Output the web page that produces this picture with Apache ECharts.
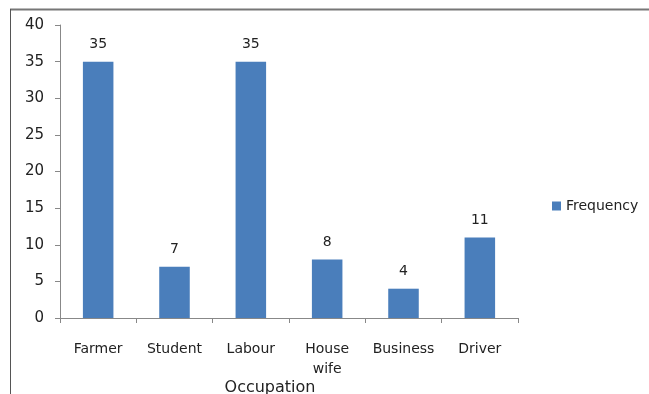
<!DOCTYPE html>
<html><head><meta charset="utf-8">
<script src="https://cdn.jsdelivr.net/npm/echarts@6/dist/echarts.min.js"></script>
<style>html,body{margin:0;padding:0;background:#fff}#c{width:649px;height:394px}</style>
</head><body><div id="c"></div>
<script>
const categories = ['Farmer', 'Student', 'Labour', 'House\nwife', 'Business', 'Driver'];
const frequency = [35, 7, 35, 8, 4, 11];
const yTicks = [0, 5, 10, 15, 20, 25, 30, 35, 40];
const seriesName = 'Frequency';
const xTitle = 'Occupation';

const chart = echarts.init(document.getElementById('c'), null, {renderer: 'canvas'});
const font = 'DejaVu Sans';
chart.setOption({
  animation: false,
  backgroundColor: '#fff',
  grid: {left: 60, right: 131, top: 25, bottom: 76, containLabel: false, outerBoundsMode: 'none'},
  legend: {
    orient: 'vertical', left: 547, top: 194,
    itemWidth: 9, itemHeight: 9,
    icon: 'rect',
    textStyle: {fontFamily: font, fontSize: 14, color: '#222'},
    data: [seriesName]
  },
  xAxis: {
    type: 'category', data: categories,
    axisLine: {lineStyle: {color: '#888'}},
    axisTick: {show: true, length: 5, alignWithLabel: false, lineStyle: {color: '#888'}},
    axisLabel: {fontFamily: font, fontSize: 14, color: '#222', margin: 21, lineHeight: 20, interval: 0},
    name: xTitle, nameLocation: 'middle', nameGap: 62, nameMoveOverlap: false,
    nameTextStyle: {fontFamily: font, fontSize: 16, color: '#222', padding: [0, 38, 0, 0]}
  },
  yAxis: {
    type: 'value', min: yTicks[0], max: yTicks[yTicks.length - 1], interval: 5,
    axisLine: {show: true, lineStyle: {color: '#888'}},
    axisTick: {show: true, length: 5, lineStyle: {color: '#888'}},
    splitLine: {show: false},
    axisLabel: {fontFamily: font, fontSize: 15, color: '#222', margin: 16}
  },
  series: [{
    name: seriesName, type: 'bar', data: frequency,
    barWidth: '40%',
    itemStyle: {color: '#4a7ebb'},
    label: {show: true, position: 'top', distance: 10, fontFamily: font, fontSize: 14, color: '#222'}
  }],
  graphic: [
    {type: 'line', shape: {x1: 10, y1: 9.5, x2: 649, y2: 9.5}, style: {stroke: '#777', lineWidth: 2}},
    {type: 'line', shape: {x1: 10.5, y1: 9, x2: 10.5, y2: 394}, style: {stroke: '#555', lineWidth: 1}}
  ]
});
</script></body></html>
